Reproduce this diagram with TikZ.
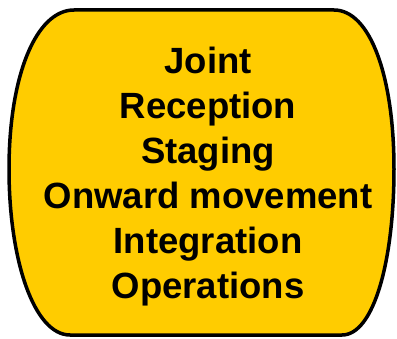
\documentclass[tikz,border=0pt]{standalone}
\usepackage{fontspec}
\setmainfont{Liberation Sans}
\usetikzlibrary{positioning}
\definecolor{phaseyellow}{HTML}{FFCC00}

\begin{document}
\begin{tikzpicture}[x=1pt,y=1pt]
\tikzstyle{outline} = [
	draw=black, %border of the barrel
	fill=phaseyellow, %fill of the barrel
	line width=3.5pt,
	line join=round
];
\tikzstyle{phases} = [
	align=center,
	font=\fontsize{36.5}{45}\selectfont\bfseries,
	inner sep=0pt
];

\useasboundingbox (0,0) rectangle (397,338);

%barrel shape
\draw[outline]
	(74,328) -- (334,328)
	.. controls (370,328) and (394,262) .. (394,169)
	.. controls (394,78) and (374,3) .. (342,3)
	-- (70,3)
	.. controls (34,3) and (9,78) .. (9,169)
	.. controls (9,262) and (36,328) .. (74,328)
	-- cycle;

%phase list
\node[phases](list) at (208,161) {Joint\\Reception\\Staging\\Onward movement\\Integration\\Operations};

\end{tikzpicture}
\end{document}
